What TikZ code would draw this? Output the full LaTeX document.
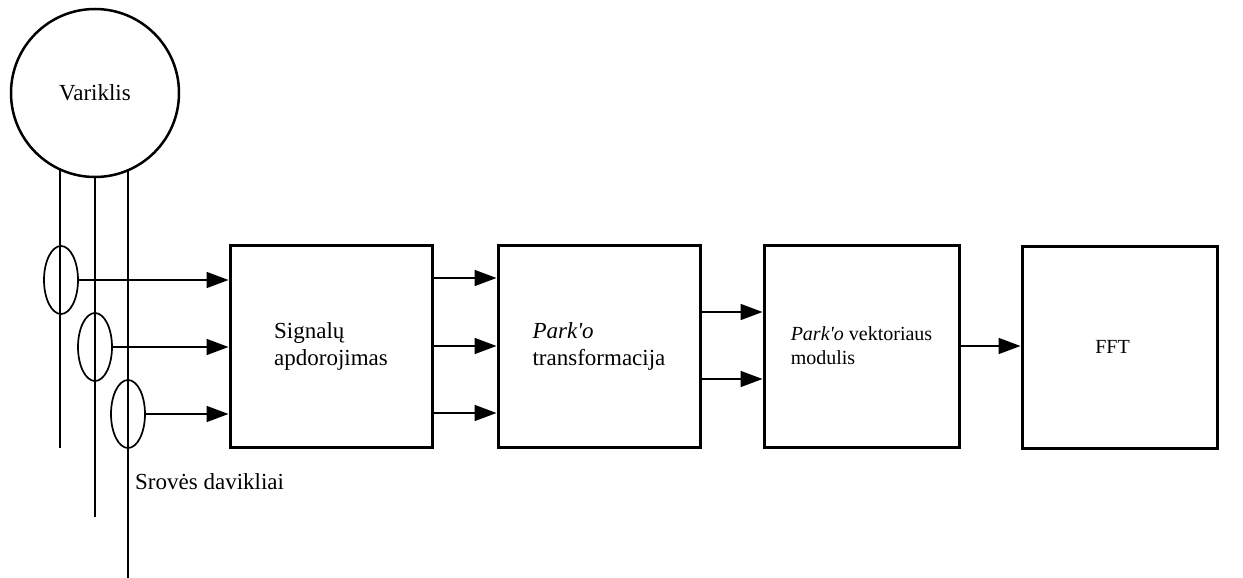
\documentclass[tikz,border=0pt]{standalone}
\usepackage{fontspec}
\setmainfont{Liberation Serif}
\usetikzlibrary{arrows.meta,shapes.geometric}
\begin{document}
\begin{tikzpicture}[x=1pt,y=-1pt,
  block/.style={draw,line width=3pt,minimum width=202pt,minimum height=202pt,
    inner sep=0pt,align=left,font=\fontsize{23}{27}\selectfont},
  narrowblock/.style={block,minimum width=195pt,font=\fontsize{20}{24}\selectfont},
  wire/.style={line width=1.7pt},
  sensor/.style={draw,line width=1.7pt,ellipse,minimum width=34pt,minimum height=68pt,inner sep=0pt},
  arr/.style={line width=1.7pt,-{Triangle[length=22pt,width=16pt]}},
  lbl/.style={font=\fontsize{23}{27}\selectfont,inner sep=0pt}]
\useasboundingbox (0,0) rectangle (1243,578);

% motor
\node[draw,circle,line width=2.5pt,minimum size=168pt,inner sep=0pt,
  font=\fontsize{23}{27}\selectfont] (motor) at (95,93) {Variklis};

% phase wires
\coordinate (e1) at (60,448);
\coordinate (e2) at (95,517);
\coordinate (e3) at (128,578);
\draw[wire] (e1 |- motor.245.4) -- (e1);
\draw[wire] (motor.south) -- (e2);
\draw[wire] (e3 |- motor.293.1) -- (e3);

% current sensors
\node[sensor] (s1) at (61,280) {};
\node[sensor] (s2) at (95,347) {};
\node[sensor] (s3) at (128,414) {};
\node[lbl,anchor=base west] (slbl) at (135,489) {Srovės davikliai};

% processing blocks
\node[block] (b1) at (331,346) {Signalų\\apdorojimas};
\node[block] (b2) at (599,346) {\textit{Park\textquotesingle o}\\transformacija};
\node[narrowblock] (b3) at (861.5,346) {\textit{Park\textquotesingle o} vektoriaus\\modulis};
\node[narrowblock] (b4) at (1119.5,347) {\hspace*{-14pt}FFT};

% signal flow
\draw[arr] (s1.east) -- (s1.east -| b1.west);
\draw[arr] (s2.east) -- (s2.east -| b1.west);
\draw[arr] (s3.east) -- (s3.east -| b1.west);

\coordinate (q1) at (0,278);
\coordinate (q2) at (0,346);
\coordinate (q3) at (0,413);
\draw[arr] (b1.east |- q1) -- (b2.west |- q1);
\draw[arr] (b1.east |- q2) -- (b2.west |- q2);
\draw[arr] (b1.east |- q3) -- (b2.west |- q3);

\coordinate (r1) at (0,312);
\coordinate (r2) at (0,379);
\draw[arr] (b2.east |- r1) -- (b3.west |- r1);
\draw[arr] (b2.east |- r2) -- (b3.west |- r2);

\draw[arr] (b3.east) -- (b4.west |- b3.east);
\end{tikzpicture}
\end{document}
